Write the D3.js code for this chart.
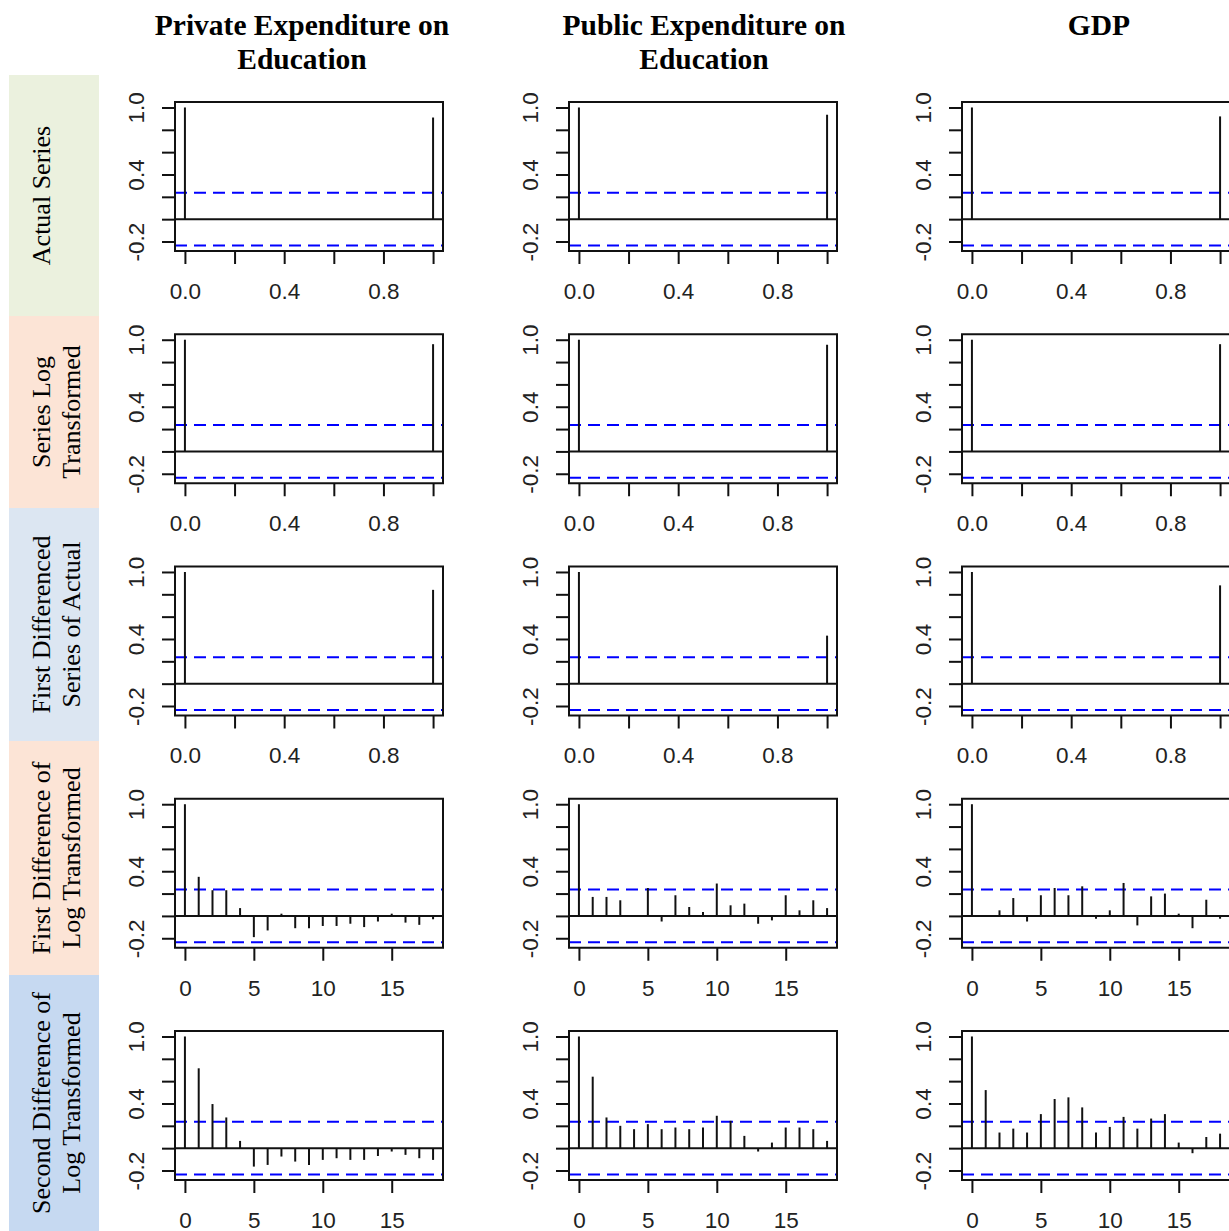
<!DOCTYPE html>
<html>
<head>
<meta charset="utf-8">
<script src="https://cdnjs.cloudflare.com/ajax/libs/d3/7.8.5/d3.min.js"></script>
<style>
  body { margin: 0; background: #fff; }
  svg { display: block; }
</style>
</head>
<body>
<svg id="chart" width="1229" height="1231"></svg>
<script>
// column titles and row labels
var colTitles = [
  ["Private Expenditure on", "Education"],
  ["Public Expenditure on", "Education"],
  ["GDP"]
];
var rowLabels = [
  ["Actual Series"],
  ["Series Log", "Transformed"],
  ["First Differenced", "Series of Actual"],
  ["First Difference of", "Log Transformed"],
  ["Second Difference of", "Log Transformed"]
];

// lags
var lagsShort = [0, 1];
var lagsLong = [0, 1, 2, 3, 4, 5, 6, 7, 8, 9, 10, 11, 12, 13, 14, 15, 16, 17, 18];

// ticks
var xTicksShort = [0, 0.2, 0.4, 0.6, 0.8, 1.0];
var xLabelsShort = [0, 0.4, 0.8];
var xTicksLong = [0, 5, 10, 15];
var yTicks = [-0.2, 0, 0.2, 0.4, 0.6, 0.8, 1.0];
var yLabels = [-0.2, 0.4, 1.0];

var confLimit = 0.236;

// acf values, one array per panel: [private, public, gdp]
var acfActual = [
  [1, 0.91],
  [1, 0.935],
  [1, 0.92]
];
var acfLog = [
  [1, 0.96],
  [1, 0.955],
  [1, 0.96]
];
var acfDiff = [
  [1, 0.84],
  [1, 0.43],
  [1, 0.88]
];
var acfDiffLog = [
  [1, 0.35, 0.23, 0.23, 0.07, -0.19, -0.13, 0.02, -0.11, -0.11, -0.09, -0.09, -0.07, -0.1, -0.05, 0.02, -0.06, -0.08, -0.03],
  [1, 0.17, 0.17, 0.14, 0.0, 0.25, -0.05, 0.185, 0.08, 0.035, 0.29, 0.095, 0.11, -0.07, -0.04, 0.185, 0.05, 0.14, 0.07],
  [1, 0.0, 0.05, 0.16, -0.05, 0.185, 0.25, 0.185, 0.265, -0.025, 0.05, 0.295, -0.085, 0.175, 0.2, 0.02, -0.11, 0.145, -0.025]
];
var acfDiff2Log = [
  [1, 0.715, 0.395, 0.275, 0.065, -0.165, -0.15, -0.075, -0.12, -0.15, -0.105, -0.09, -0.105, -0.105, -0.07, -0.03, -0.06, -0.09, -0.105],
  [1, 0.64, 0.275, 0.2, 0.17, 0.215, 0.17, 0.185, 0.17, 0.185, 0.29, 0.245, 0.11, -0.03, 0.05, 0.185, 0.185, 0.17, 0.065],
  [1, 0.52, 0.14, 0.175, 0.14, 0.305, 0.44, 0.455, 0.365, 0.14, 0.19, 0.28, 0.175, 0.265, 0.305, 0.05, -0.045, 0.1, 0.13]
];

var rows = [
  { lags: lagsShort, values: acfActual },
  { lags: lagsShort, values: acfLog },
  { lags: lagsShort, values: acfDiff },
  { lags: lagsLong, values: acfDiffLog },
  { lags: lagsLong, values: acfDiff2Log }
];

// layout
var boxW = 268, boxH = 149;
var colLeft = [175, 569, 962];
var colCenter = [302, 704, 1099];
var rowTop = [102, 334.25, 566.5, 798.75, 1031];
var bandEdges = [75, 316, 508, 741, 975, 1231];
var bandColors = ['#EBF1DE', '#FCE4D6', '#DCE6F2', '#FCE4D6', '#C6D9F1'];
var lineColor = '#111';
var axisFont = '"Liberation Sans", Arial, sans-serif';
var serifFont = '"Liberation Serif", "Times New Roman", serif';

var svg = d3.select('#chart');

svg.append('rect')
  .attr('width', 1229).attr('height', 1231)
  .style('fill', '#fff');

// column titles
colTitles.forEach(function(lines, c) {
  lines.forEach(function(t, k) {
    svg.append('text')
      .attr('x', colCenter[c])
      .attr('y', 35 + k * 34)
      .attr('text-anchor', 'middle')
      .style('font-family', serifFont)
      .style('font-weight', 'bold')
      .style('font-size', '29.5px')
      .style('fill', '#000')
      .text(t);
  });
});

// row label bands
rowLabels.forEach(function(lines, r) {
  var y0 = bandEdges[r], y1 = bandEdges[r + 1];
  svg.append('rect')
    .attr('x', 9).attr('y', y0)
    .attr('width', 90).attr('height', y1 - y0)
    .style('fill', bandColors[r]);
  lines.forEach(function(t, k) {
    svg.append('text')
      .attr('transform', 'translate(' + [50 + k * 30, (y0 + y1) / 2] + ')rotate(-90)')
      .attr('text-anchor', 'middle')
      .style('font-family', serifFont)
      .style('font-size', '26px')
      .style('fill', '#000')
      .text(t);
  });
});

var y = d3.scaleLinear()
  .domain([-0.285, 1.049])
  .range([boxH, 0]);

function drawPanel(r, c) {
  var row = rows[r];
  var vals = row.values[c];
  var short = row.lags.length < 3;
  var lo = d3.min(row.lags), hi = d3.max(row.lags);
  var pad = (hi - lo) * 0.04;
  var x = d3.scaleLinear()
    .domain([lo - pad, hi + pad])
    .range([0, boxW]);

  var g = svg.append('g')
    .attr('transform', 'translate(' + [colLeft[c], rowTop[r]] + ')');

  // x axis
  var xAxis = d3.axisBottom(x)
    .tickValues(short ? xTicksShort : xTicksLong)
    .tickSize(13)
    .tickPadding(19)
    .tickFormat(function(d) {
      if (short) return xLabelsShort.indexOf(d) >= 0 ? d.toFixed(1) : '';
      return String(d);
    });
  var xg = g.append('g')
    .attr('transform', 'translate(0,' + boxH + ')')
    .call(xAxis);
  xg.select('.domain').remove();
  xg.selectAll('line').style('stroke', lineColor).style('stroke-width', 2);
  xg.selectAll('text')
    .style('font-family', axisFont)
    .style('font-size', '22.5px')
    .style('fill', '#222');

  // y axis
  var yAxis = d3.axisLeft(y)
    .tickValues(yTicks)
    .tickSize(13)
    .tickFormat(function(d) {
      return yLabels.indexOf(d) >= 0 ? d.toFixed(1) : '';
    });
  var yg = g.append('g').call(yAxis);
  yg.select('.domain').remove();
  yg.selectAll('line').style('stroke', lineColor).style('stroke-width', 2);
  yg.selectAll('text')
    .attr('x', null)
    .attr('dy', null)
    .attr('text-anchor', 'middle')
    .attr('transform', 'translate(-31,0)rotate(-90)')
    .style('font-family', axisFont)
    .style('font-size', '22.5px')
    .style('fill', '#222');

  // confidence limits
  g.selectAll('line.clim')
    .data([confLimit, -confLimit])
    .enter()
    .append('line')
    .classed('clim', true)
    .attr('x1', 0).attr('x2', boxW)
    .attr('y1', function(d) { return y(d); })
    .attr('y2', function(d) { return y(d); })
    .style('stroke', '#0000FF')
    .style('stroke-width', 2)
    .style('stroke-dasharray', '12,7');

  // zero line
  g.append('line')
    .attr('x1', 0).attr('x2', boxW)
    .attr('y1', y(0)).attr('y2', y(0))
    .style('stroke', lineColor)
    .style('stroke-width', 2);

  // spikes
  g.selectAll('line.spike')
    .data(vals)
    .enter()
    .append('line')
    .classed('spike', true)
    .attr('x1', function(d, i) { return x(row.lags[i]); })
    .attr('x2', function(d, i) { return x(row.lags[i]); })
    .attr('y1', y(0))
    .attr('y2', function(d) { return y(d); })
    .style('stroke', lineColor)
    .style('stroke-width', 2);

  // box
  g.append('rect')
    .attr('width', boxW).attr('height', boxH)
    .style('fill', 'none')
    .style('stroke', lineColor)
    .style('stroke-width', 2);
}

for (var r = 0; r < rows.length; r++) {
  for (var c = 0; c < 3; c++) {
    drawPanel(r, c);
  }
}
</script>
</body>
</html>
